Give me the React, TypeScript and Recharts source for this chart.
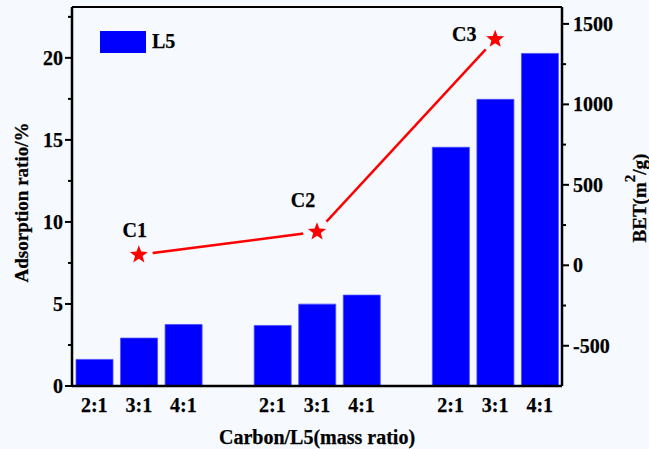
import {
  Bar,
  ComposedChart,
  Legend,
  Line,
  ReferenceLine,
  XAxis,
  YAxis,
} from "recharts";

// x slots: three groups of carbon/L5 ratios with an empty slot between groups
const ratioLabels = ["2:1", "3:1", "4:1", "", "2:1", "3:1", "4:1", "", "2:1", "3:1", "4:1"];
const adsorption = [1.62, 2.92, 3.75, null, 3.69, 4.99, 5.54, null, 14.55, 17.47, 20.27];

// BET surface area of each carbon sample, drawn at the middle bar of its group
const sampleNames = ["C1", "C2", "C3"];
const sampleSlots = [1, 5, 9];
const betValues = [65, 208, 1405];

const leftTicks = [0, 2.5, 5, 7.5, 10, 12.5, 15, 17.5, 20, 22.5];
const rightTicks = [-500, -250, 0, 250, 500, 750, 1000, 1250, 1500];

const data = ratioLabels.map((label, i) => {
  const s = sampleSlots.indexOf(i);
  return {
    slot: i,
    label,
    adsorption: adsorption[i],
    bet: s >= 0 ? betValues[s] : null,
    name: s >= 0 ? sampleNames[s] : "",
  };
});

const BG = "#f6f9fd";
const FONT = '"Liberation Serif", "Times New Roman", serif';
const BLUE = "#0000ff";
const RED = "#ff0000";
const TXT = { fontFamily: FONT, fontWeight: "bold", fill: "#000", stroke: "#000", strokeWidth: 0.25 } as const;

// label offsets relative to each star
const labelOffset: Record<string, [number, number]> = {
  C1: [-4, -25],
  C2: [-14, -32],
  C3: [-31, -5],
};

function starPath(cx: number, cy: number, R: number, r: number) {
  let d = "";
  for (let k = 0; k < 10; k++) {
    const rad = k % 2 === 0 ? R : r;
    const a = -Math.PI / 2 + (k * Math.PI) / 5;
    d += (k ? "L" : "M") + (cx + rad * Math.cos(a)).toFixed(2) + "," + (cy + rad * Math.sin(a)).toFixed(2);
  }
  return d + "Z";
}

function StarDot(props: any) {
  const { cx, cy, index, value } = props;
  if (cx == null || cy == null || value == null) return <g key={`star-${index}`} />;
  return (
    <g key={`star-${index}`}>
      {/* gap between the line and the marker, Origin style */}
      <circle cx={cx} cy={cy} r={14} fill={BG} />
      <path d={starPath(cx, cy, 9.5, 4)} fill={RED} />
    </g>
  );
}

function SampleLabel(props: any) {
  const { x, y, index } = props;
  const name = data[index]?.name;
  if (!name || x == null || y == null) return null;
  const [dx, dy] = labelOffset[name];
  return (
    <text x={x + dx} y={y + dy} textAnchor="middle" dominantBaseline="central" fontSize={20} {...TXT}>
      {name}
    </text>
  );
}

function LeftTick({ x, y, payload }: any) {
  const major = payload.value % 5 === 0;
  return (
    <g>
      <line x1={x - (major ? 7 : 4)} x2={x} y1={y} y2={y} stroke="#000" strokeWidth={2} />
      {major && (
        <text x={x - 9} y={y} textAnchor="end" dominantBaseline="central" fontSize={20} {...TXT}>
          {payload.value}
        </text>
      )}
    </g>
  );
}

function RightTick({ x, y, payload }: any) {
  const major = payload.value % 500 === 0;
  return (
    <g>
      <line x1={x} x2={x + (major ? 7 : 4)} y1={y} y2={y} stroke="#000" strokeWidth={2} />
      {major && (
        <text x={x + 11} y={y} textAnchor="start" dominantBaseline="central" fontSize={20} {...TXT}>
          {payload.value}
        </text>
      )}
    </g>
  );
}

function BottomTick({ x, y, payload }: any) {
  return (
    <text x={x} y={y + 19} textAnchor="middle" dominantBaseline="central" fontSize={20} {...TXT}>
      {ratioLabels[payload.value]}
    </text>
  );
}

function LegendBox() {
  return (
    <div style={{ display: "flex", alignItems: "center", fontFamily: FONT, fontWeight: "bold", fontSize: 20, WebkitTextStroke: "0.25px #000" }}>
      <span style={{ display: "inline-block", width: 46, height: 22, background: BLUE, marginRight: 6 }} />
      <span>L5</span>
    </div>
  );
}

export default function App() {
  return (
    <div style={{ position: "absolute", left: 0, top: 0, width: 649, height: 449, background: BG }}>
      <ComposedChart
        width={649}
        height={449}
        data={data}
        margin={{ top: 7, right: 0, bottom: 0, left: 0 }}
        barCategoryGap="9%"
      >
        <XAxis
          dataKey="slot"
          type="category"
          height={63}
          axisLine={{ stroke: "#000", strokeWidth: 2.5 }}
          tickLine={false}
          tickSize={0}
          tickMargin={0}
          interval={0}
          tick={<BottomTick />}
          label={({ viewBox }: any) => (
            <text
              x={viewBox.x + viewBox.width / 2}
              y={viewBox.y + 51}
              textAnchor="middle"
              dominantBaseline="central"
              fontSize={20}
              {...TXT}
            >
              Carbon/L5(mass ratio)
            </text>
          )}
        />
        <YAxis
          yAxisId="left"
          orientation="left"
          width={72}
          domain={[0, 23.1]}
          ticks={leftTicks}
          interval={0}
          axisLine={{ stroke: "#000", strokeWidth: 2.5 }}
          tickLine={false}
          tickSize={0}
          tickMargin={0}
          tick={<LeftTick />}
          label={({ viewBox }: any) => {
            const cx = viewBox.x + 21;
            const cy = viewBox.y + viewBox.height / 2 + 6;
            return (
              <text
                x={cx}
                y={cy}
                transform={`rotate(-90 ${cx} ${cy})`}
                textAnchor="middle"
                dominantBaseline="central"
                fontSize={19}
                {...TXT}
              >
                Adsorption ratio/%
              </text>
            );
          }}
        />
        <YAxis
          yAxisId="right"
          orientation="right"
          width={87}
          domain={[-750, 1605]}
          ticks={rightTicks}
          interval={0}
          axisLine={{ stroke: "#000", strokeWidth: 2.5 }}
          tickLine={false}
          tickSize={0}
          tickMargin={0}
          tick={<RightTick />}
          label={({ viewBox }: any) => {
            const cx = viewBox.x + 77;
            const cy = 198;
            return (
              <text
                x={cx}
                y={cy}
                transform={`rotate(-90 ${cx} ${cy})`}
                textAnchor="middle"
                dominantBaseline="central"
                fontSize={19}
                {...TXT}
              >
                BET(m
                <tspan fontSize={15} dy={-9}>2</tspan>
                <tspan dy={9}>/g)</tspan>
              </text>
            );
          }}
        />
        <ReferenceLine yAxisId="left" y={23.1} stroke="#000" strokeWidth={2} />
        <Legend
          layout="vertical"
          align="center"
          verticalAlign="middle"
          content={<LegendBox />}
          wrapperStyle={{ left: 100, top: 30, width: "auto" }}
        />
        <Bar
          yAxisId="left"
          dataKey="adsorption"
          name="L5"
          fill={BLUE}
          stroke="#4d4dff"
          strokeWidth={0.8}
          isAnimationActive={false}
        />
        <Line
          yAxisId="right"
          type="linear"
          dataKey="bet"
          stroke={RED}
          strokeWidth={2.5}
          connectNulls
          dot={StarDot}
          activeDot={false}
          label={SampleLabel}
          legendType="none"
          isAnimationActive={false}
        />
      </ComposedChart>
    </div>
  );
}
